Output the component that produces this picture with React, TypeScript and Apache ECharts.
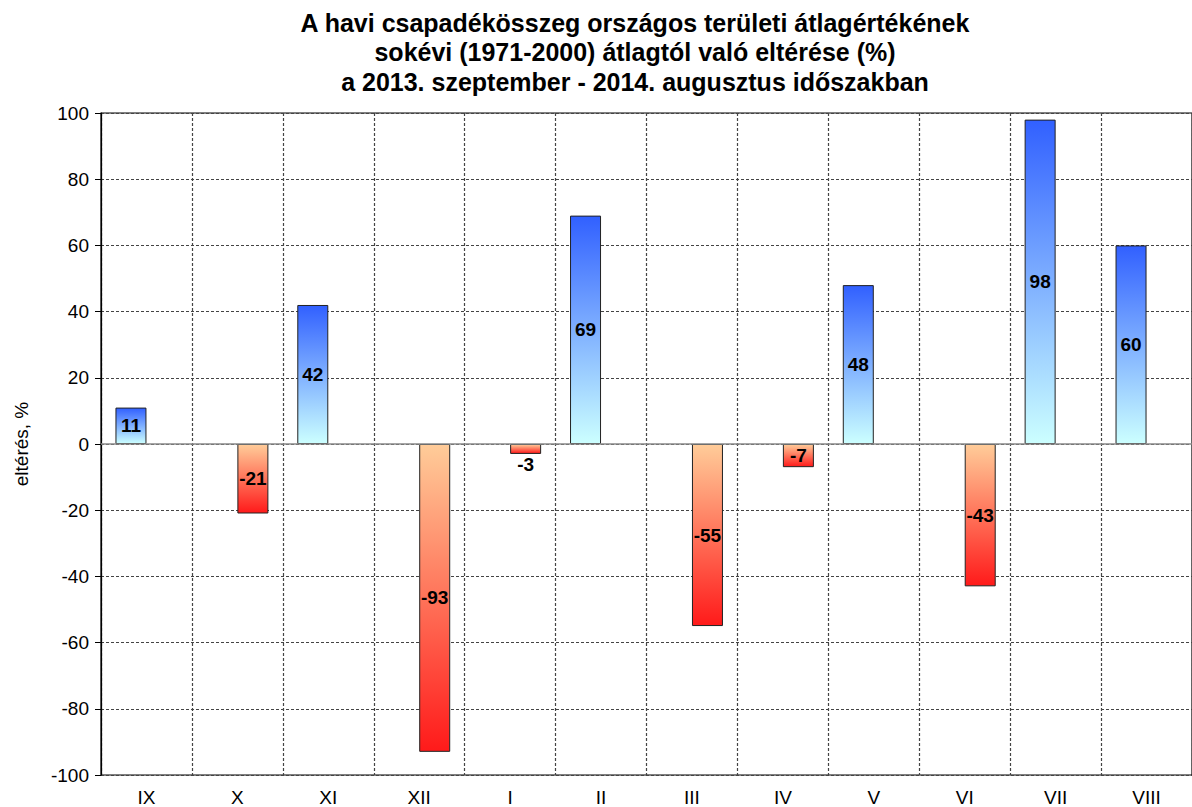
import React, { useEffect, useRef } from "react";
import * as echarts from "echarts";

const months = ["IX", "X", "XI", "XII", "I", "II", "III", "IV", "V", "VI", "VII", "VIII"];
const deviations = [11, -21, 42, -93, -3, 69, -55, -7, 48, -43, 98, 60];
const yTicks = { min: -100, max: 100, interval: 20 };
const titleLines = [
  "A havi csapadékösszeg országos területi átlagértékének",
  "sokévi (1971-2000) átlagtól való eltérése (%)",
  "a 2013. szeptember - 2014. augusztus időszakban",
];
const yAxisName = "eltérés, %";

const FONT = "'Liberation Sans', Arial, sans-serif";

export default function App() {
  const ref = useRef<HTMLDivElement>(null);
  useEffect(() => {
    if (!ref.current) return;
    const chart = echarts.init(ref.current, undefined, { renderer: "svg" });
    const posGrad = new echarts.graphic.LinearGradient(0, 0, 0, 1, [
      { offset: 0, color: "#3160ff" },
      { offset: 1, color: "#ccffff" },
    ]);
    const negGrad = new echarts.graphic.LinearGradient(0, 0, 0, 1, [
      { offset: 0, color: "#ffcc99" },
      { offset: 1, color: "#ff1a1a" },
    ]);
    const posData = deviations.map((v) => (v >= 0 ? v : null));
    const negData = deviations.map((v) =>
      v < 0
        ? {
            value: v,
            label:
              Math.abs(v) < 5
                ? { position: "bottom", distance: 1 }
                : { position: "inside" },
          }
        : null
    );
    const labelStyle = {
      show: true,
      position: "inside",
      fontWeight: "bold",
      fontSize: 19,
      color: "#000",
      fontFamily: FONT,
    };
    chart.setOption({
      animation: false,
      textStyle: { fontFamily: FONT },
      title: {
        text: titleLines.join("\n"),
        left: 630,
        textAlign: "center",
        top: 3,
        textStyle: {
          fontFamily: FONT,
          fontWeight: "bold",
          fontSize: 25,
          lineHeight: 29.5,
          color: "#000",
        },
      },
      grid: {
        left: 101,
        top: 113,
        width: 1103,
        height: 662,
        show: true,
        borderColor: "#000",
        borderWidth: 1.2,
        backgroundColor: "transparent",
      },
      xAxis: {
        type: "category",
        data: months,
        boundaryGap: true,
        axisLine: { show: false, onZero: false },
        axisTick: { show: false },
        axisLabel: { fontSize: 19, color: "#000", margin: 13, fontFamily: FONT },
        splitLine: {
          show: true,
          lineStyle: { color: "#444", type: [3, 2], width: 1.2 },
        },
      },
      yAxis: {
        type: "value",
        min: yTicks.min,
        max: yTicks.max,
        interval: yTicks.interval,
        name: yAxisName,
        nameLocation: "middle",
        nameRotate: 90,
        nameGap: 70,
        nameTextStyle: { fontSize: 19, color: "#000", fontFamily: FONT },
        axisLine: { show: true, lineStyle: { color: "#000", width: 1.2 } },
        axisTick: { show: true, length: 6, lineStyle: { color: "#000" } },
        axisLabel: { fontSize: 19, color: "#000", margin: 12, fontFamily: FONT },
        splitLine: {
          show: true,
          lineStyle: { color: "#444", type: [3, 2], width: 1.2 },
        },
      },
      series: [
        {
          type: "bar",
          data: posData,
          barWidth: 31,
          barGap: "0%",
          itemStyle: { color: posGrad, borderColor: "#222", borderWidth: 1 },
          label: labelStyle,
          markLine: {
            silent: true,
            symbol: "none",
            label: { show: false },
            lineStyle: { color: "#888", type: "solid", width: 1.5 },
            data: [{ yAxis: 0 }],
          },
          z: 3,
        },
        {
          type: "bar",
          data: negData,
          barWidth: 31,
          barGap: "0%",
          itemStyle: { color: negGrad, borderColor: "#222", borderWidth: 1 },
          label: labelStyle,
          z: 3,
        },
      ],
    });
    return () => chart.dispose();
  }, []);
  return (
    <div
      ref={ref}
      style={{ position: "fixed", left: 0, top: 0, width: 1192, height: 807, overflow: "hidden", background: "#fff" }}
    />
  );
}
